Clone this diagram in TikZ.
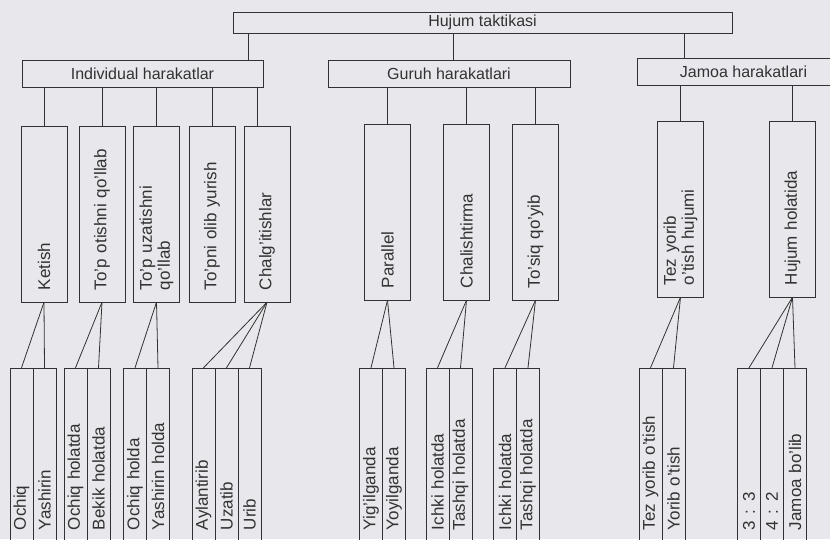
\documentclass[tikz,border=0pt]{standalone}
\usepackage{fontspec}
\setmainfont{Liberation Sans}
\usetikzlibrary{calc}
\definecolor{paper}{RGB}{232,232,236}
\definecolor{ink}{RGB}{50,50,50}

\begin{document}
\begin{tikzpicture}[x=1pt,y=-1pt,head/.style={draw=ink,text=ink,inner sep=0pt,font=\fontsize{16}{18}\selectfont},tall/.style={draw=ink,text=ink,rotate=90,minimum height=46pt,text width=152pt,inner xsep=12pt,inner ysep=0pt,align=left,font=\fontsize{17}{18}\selectfont},leaf/.style={draw=ink,text=ink,rotate=90,minimum height=23pt,text width=132pt,inner xsep=30pt,inner ysep=0pt,align=left,font=\fontsize{17}{18}\selectfont},link/.style={draw=ink,line width=0.8pt}]
  \useasboundingbox (0,0) rectangle (830,539);
  \clip (0,0) rectangle (830,539);
  \fill[paper] (0,0) rectangle (830,539);
  % top levels
  \node[head,minimum width=499pt,minimum height=21pt] (tactics) at (482.5,22.5) {Hujum taktikasi};
  \node[head,minimum width=241pt,minimum height=27pt] (indiv) at (142.5,73.5) {Individual harakatlar};
  \node[head,minimum width=242pt,minimum height=27pt] (group) at (449,73.5) {Guruh harakatlari};
  \node[head,minimum width=213pt,minimum height=27pt] (team) at (743.5,71.5) {Jamoa harakatlari};
  \draw[link] ([xshift=-15pt]indiv.north east) -- ([xshift=-15pt]indiv.north east |- tactics.south);
  \draw[link] ([xshift=4pt]group.north) -- ([xshift=4pt]group.north |- tactics.south);
  \draw[link] ([xshift=48pt]team.north west) -- ([xshift=48pt]team.north west |- tactics.south);
  % tall boxes (rotated: east is the top, west the bottom)
  \node[tall] (ketish) at (44,214) {Ketish};
  \node[tall] (shot) at (102,214) {To'p otishni qo'llab};
  \node[tall] (pass) at (156.5,214) {To'p uzatishni\\qo'llab};
  \node[tall] (carry) at (212,214) {To'pni olib yurish};
  \node[tall] (feint) at (267,214) {Chalg'itishlar};
  \node[tall] (parallel) at (387.5,212) {Parallel};
  \node[tall] (cross) at (466.5,212) {Chalishtirma};
  \node[tall] (screen) at (535.5,212) {To'siq qo'yib};
  \node[tall] (fast) at (680.5,209) {Tez yorib\\o'tish hujumi};
  \node[tall] (attack) at (792.5,209) {Hujum holatida};
  \draw[link] (ketish.east) -- (ketish.east |- indiv.south);
  \draw[link] (shot.east) -- (shot.east |- indiv.south);
  \draw[link] (pass.east) -- (pass.east |- indiv.south);
  \draw[link] (carry.east) -- (carry.east |- indiv.south);
  \draw[link] ([xshift=-10pt]feint.east) -- ([xshift=-10pt]feint.east |- indiv.south);
  \draw[link] (parallel.east) -- (parallel.east |- group.south);
  \draw[link] (cross.east) -- (cross.east |- group.south);
  \draw[link] (screen.east) -- (screen.east |- group.south);
  \draw[link] (fast.east) -- (fast.east |- team.south);
  \draw[link] (attack.east) -- (attack.east |- team.south);
  % leaves
  \node[leaf] (open) at (21.5,464) {Ochiq};
  \node[leaf] (hidden) at (44.5,464) {Yashirin};
  \node[leaf] (shotopen) at (75.5,464) {Ochiq holatda};
  \node[leaf] (shotclosed) at (98.5,464) {Bekik holatda};
  \node[leaf] (passopen) at (135,464) {Ochiq holda};
  \node[leaf] (passhidden) at (158,464) {Yashirin holda};
  \node[leaf] (turn) at (203.5,464) {Aylantirib};
  \node[leaf] (stretch) at (226.5,464) {Uzatib};
  \node[leaf] (hit) at (249.5,464) {Urib};
  \node[leaf] (packed) at (371,464) {Yig'ilganda};
  \node[leaf] (spread) at (394,464) {Yoyilganda};
  \node[leaf] (crossin) at (437.5,464) {Ichki holatda};
  \node[leaf] (crossout) at (460.5,464) {Tashqi holatda};
  \node[leaf] (screenin) at (505,464) {Ichki holatda};
  \node[leaf] (screenout) at (528,464) {Tashqi holatda};
  \node[leaf] (fastrun) at (650.5,464) {Tez yorib o'tish};
  \node[leaf] (run) at (673.5,464) {Yorib o'tish};
  \node[leaf] (threes) at (749,464) {3 : 3};
  \node[leaf] (fourtwo) at (772,464) {4 : 2};
  \node[leaf] (whole) at (795,464) {Jamoa bo'lib};
  \draw[link] (ketish.west) -- (open.east);
  \draw[link] (ketish.west) -- (hidden.east);
  \draw[link] (shot.west) -- (shotopen.east);
  \draw[link] (shot.west) -- (shotclosed.east);
  \draw[link] (pass.west) -- (passopen.east);
  \draw[link] (pass.west) -- (passhidden.east);
  \draw[link] (feint.west) -- (turn.east);
  \draw[link] (feint.west) -- (stretch.east);
  \draw[link] (feint.west) -- (hit.east);
  \draw[link] (parallel.west) -- (packed.east);
  \draw[link] (parallel.west) -- (spread.east);
  \draw[link] (cross.west) -- (crossin.east);
  \draw[link] (cross.west) -- (crossout.east);
  \draw[link] (screen.west) -- (screenin.east);
  \draw[link] (screen.west) -- (screenout.east);
  \draw[link] (fast.west) -- (fastrun.east);
  \draw[link] (fast.west) -- (run.east);
  \draw[link] (attack.west) -- (threes.east);
  \draw[link] (attack.west) -- (fourtwo.east);
  \draw[link] (attack.west) -- (whole.east);
\end{tikzpicture}
\end{document}
